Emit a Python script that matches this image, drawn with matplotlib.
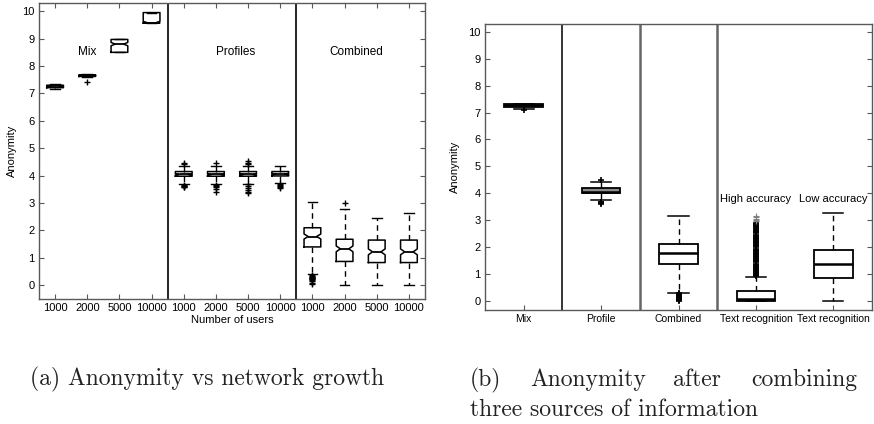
import matplotlib
matplotlib.use("Agg")
import matplotlib.pyplot as plt

plt.rcParams['font.family'] = ['Liberation Sans', 'DejaVu Sans']

# ---------------- data: panel (a) ----------------
a_tick_labels = ["1000", "2000", "5000", "10000"] * 3
a_group_labels = ["Mix", "Profiles", "Combined"]
a_med = [7.25, 7.65, 8.80, 9.58, 4.05, 4.05, 4.05, 4.06, 1.78, 1.33, 1.22, 1.22]
a_q1 = [7.21, 7.62, 8.50, 9.57, 3.98, 3.98, 3.98, 3.99, 1.40, 0.87, 0.83, 0.83]
a_q3 = [7.30, 7.68, 8.97, 9.95, 4.15, 4.15, 4.15, 4.15, 2.10, 1.68, 1.65, 1.65]
a_whislo = [7.18, 7.60, 8.50, 9.57, 3.70, 3.70, 3.70, 3.72, 0.40, 0.00, 0.00, 0.00]
a_whishi = [7.33, 7.70, 8.97, 9.95, 4.37, 4.37, 4.37, 4.37, 3.05, 2.80, 2.45, 2.65]
a_fliers = [
    [],
    [7.42],
    [],
    [],
    [4.47, 4.44, 3.66, 3.64, 3.62, 3.60, 3.57],
    [4.45, 3.66, 3.63, 3.58, 3.50, 3.42],
    [4.42, 4.48, 4.55, 3.68, 3.62, 3.55, 3.48, 3.40, 3.35],
    [3.68, 3.66, 3.63, 3.60, 3.56],
    [0.36, 0.34, 0.32, 0.30, 0.28, 0.26, 0.24, 0.22, 0.20, 0.15, 0.10, 0.05],
    [3.02],
    [],
    [],
]

# ---------------- data: panel (b) ----------------
b_tick_labels = ["Mix", "Profile", "Combined", "Text recognition", "Text recognition"]
b_annot = ["High accuracy", "Low accuracy"]
b_med = [7.27, 4.06, 1.78, 0.05, 1.38]
b_q1 = [7.20, 4.00, 1.38, 0.00, 0.83]
b_q3 = [7.32, 4.18, 2.12, 0.37, 1.90]
b_whislo = [7.15, 3.73, 0.30, 0.00, 0.00]
b_whishi = [7.33, 4.40, 3.15, 0.87, 3.28]
b_fliers = [
    [7.10],
    [4.48, 3.68, 3.66, 3.63, 3.60],
    [0.28, 0.26, 0.24, 0.22, 0.20, 0.18, 0.16, 0.14, 0.12, 0.10, 0.08, 0.06,
     0.04, 0.02, 0.00],
    [0.90, 0.94, 0.98, 1.02, 1.06, 1.10, 1.14, 1.18, 1.22, 1.26, 1.30, 1.34,
     1.38, 1.42, 1.46, 1.50, 1.54, 1.58, 1.62, 1.66, 1.70, 1.74, 1.78, 1.82,
     1.86, 1.90, 1.94, 1.98, 2.02, 2.06, 2.10, 2.14, 2.18, 2.22, 2.26, 2.30,
     2.34, 2.38, 2.42, 2.46, 2.50, 2.54, 2.58, 2.62, 2.66, 2.70, 2.74, 2.78,
     2.82, 2.86, 2.90],
    [],
]
b_flier_tail = [2.95, 3.00, 3.05, 3.10, 3.15]


def make_stats(med, q1, q3, lo, hi, fl, notch=0.0):
    out = []
    for i in range(len(med)):
        d = dict(med=med[i], q1=q1[i], q3=q3[i], whislo=lo[i], whishi=hi[i],
                 fliers=fl[i])
        if notch:
            d['cilo'] = max(q1[i], med[i] - notch * (q3[i] - q1[i]))
            d['cihi'] = min(q3[i], med[i] + notch * (q3[i] - q1[i]))
        out.append(d)
    return out


W, H = 874, 424
fig = plt.figure(figsize=(W / 100, H / 100), dpi=100)

spine_col = '0.35'

# ---------------- panel (a) ----------------
axA = fig.add_axes([39 / W, 1 - 299 / H, 386 / W, 296 / H])
statsA = make_stats(a_med, a_q1, a_q3, a_whislo, a_whishi, a_fliers, notch=0.13)
posA = list(range(1, len(a_med) + 1))
axA.bxp(statsA, positions=posA, widths=0.52, capwidths=0.3, shownotches=True,
        boxprops=dict(color='black', linewidth=1.1),
        medianprops=dict(color='black', linewidth=1.3),
        whiskerprops=dict(color='black', linewidth=1.0, linestyle=(0, (4, 3))),
        capprops=dict(color='black', linewidth=1.0),
        flierprops=dict(marker='+', markeredgecolor='black', markersize=5,
                        markeredgewidth=1.0, linestyle='none'))
for xv in [4.5, 8.5]:
    axA.axvline(xv, color='black', linewidth=1.2)
axA.set_xlim(0.5, 12.5)
axA.set_ylim(-0.5, 10.3)
axA.set_yticks(range(0, 11))
axA.set_xticks(posA)
axA.set_xticklabels(a_tick_labels)
axA.set_xlabel("Number of users", fontsize=8, labelpad=1)
axA.set_ylabel("Anonymity", fontsize=8, labelpad=4)
for xg, lab in zip([2.0, 6.6, 10.35], a_group_labels):
    axA.text(xg, 8.5, lab, fontsize=8.5, ha='center', va='center')
axA.tick_params(top=True, right=True)

# ---------------- panel (b) ----------------
axB = fig.add_axes([485 / W, 1 - 310 / H, 387 / W, 286 / H])
statsB = make_stats(b_med, b_q1, b_q3, b_whislo, b_whishi, b_fliers)
posB = list(range(1, len(b_med) + 1))
bp = axB.bxp(statsB, positions=posB, widths=0.5, capwidths=0.26, patch_artist=True,
             boxprops=dict(edgecolor='black', facecolor='white', linewidth=1.3),
             medianprops=dict(color='black', linewidth=1.8),
             whiskerprops=dict(color='black', linewidth=1.0, linestyle=(0, (4, 3))),
             capprops=dict(color='black', linewidth=1.1),
             flierprops=dict(marker='+', markeredgecolor='black', markersize=5,
                             markeredgewidth=1.2, linestyle='none'))
bp['boxes'][1].set_facecolor('0.55')
axB.plot([4] * len(b_flier_tail), b_flier_tail, linestyle='none', marker='+',
         markersize=4, markeredgecolor='0.5', markeredgewidth=0.8)
axB.axvline(1.5, color='black', linewidth=1.1)
for xv in [2.5, 3.5]:
    axB.axvline(xv, color='0.4', linewidth=1.8)
axB.set_xlim(0.5, 5.5)
axB.set_ylim(-0.35, 10.3)
axB.set_yticks(range(0, 11))
axB.set_xticks(posB)
axB.set_xticklabels(b_tick_labels)
axB.set_ylabel("Anonymity", fontsize=8, labelpad=6)
for xg, lab in zip([4, 5], b_annot):
    axB.text(xg, 3.78, lab, fontsize=8, ha='center', va='center')
axB.tick_params(top=False, right=True)

for ax in (axA, axB):
    for s in ax.spines.values():
        s.set_color(spine_col)
        s.set_linewidth(1.0)
    ax.tick_params(direction='in', length=3.5, width=0.8, color=spine_col,
                   labelsize=8, pad=3)
axB.tick_params(axis='x', labelsize=7.5)

# ---------------- captions ----------------
cap = dict(fontfamily='cmr10', fontsize=17, va='center', color='#222222')
fig.text(30 / W, 1 - 379 / H, "(a) Anonymity vs network growth", ha='left', **cap)
fig.text(470 / W, 1 - 380 / H, "(b)", ha='left', **cap)
fig.text(530 / W, 1 - 380 / H, "Anonymity", ha='left', **cap)
fig.text(673 / W, 1 - 380 / H, "after", ha='left', **cap)
fig.text(857 / W, 1 - 380 / H, "combining", ha='right', **cap)
fig.text(470 / W, 1 - 410 / H, "three sources of information", ha='left', **cap)

fig.savefig("out.png", dpi=100)
